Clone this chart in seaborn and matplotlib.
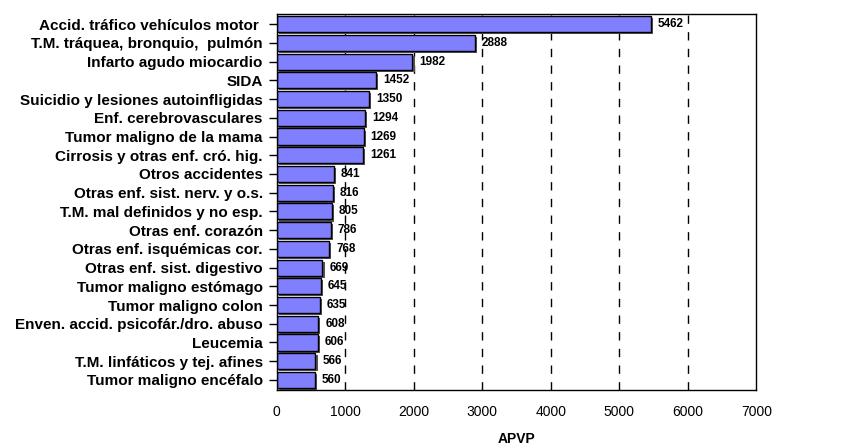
import matplotlib
matplotlib.use("Agg")
import matplotlib.pyplot as plt
import matplotlib.patheffects as pe
import pandas as pd
import seaborn as sns

causes = [
    "Accid. tráfico vehículos motor ",
    "T.M. tráquea, bronquio,  pulmón",
    "Infarto agudo miocardio",
    "SIDA",
    "Suicidio y lesiones autoinfligidas",
    "Enf. cerebrovasculares",
    "Tumor maligno de la mama",
    "Cirrosis y otras enf. cró. hig.",
    "Otros accidentes",
    "Otras enf. sist. nerv. y o.s.",
    "T.M. mal definidos y no esp.",
    "Otras enf. corazón",
    "Otras enf. isquémicas cor.",
    "Otras enf. sist. digestivo",
    "Tumor maligno estómago",
    "Tumor maligno colon",
    "Enven. accid. psicofár./dro. abuso",
    "Leucemia",
    "T.M. linfáticos y tej. afines",
    "Tumor maligno encéfalo",
]
apvp = [5462, 2888, 1982, 1452, 1350, 1294, 1269, 1261, 841, 816,
        805, 786, 768, 669, 645, 635, 608, 606, 566, 560]
xticks = [0, 1000, 2000, 3000, 4000, 5000, 6000, 7000]

df = pd.DataFrame({"causa": causes, "APVP": apvp})

sns.set_style("white")
plt.rcParams["font.family"] = ["Liberation Sans", "DejaVu Sans"]
plt.rcParams["text.color"] = "black"
plt.rcParams["xtick.color"] = "black"
plt.rcParams["ytick.color"] = "black"
plt.rcParams["axes.labelcolor"] = "black"

fig = plt.figure(figsize=(8.46, 4.48), dpi=100)
ax = fig.add_axes([0.327, 0.129, 0.567, 0.84])

for x in xticks[1:-1]:
    ax.axvline(x, color="black", lw=1, ls=(0, (6, 6)), zorder=0)

sns.barplot(data=df, x="APVP", y="causa", color="#8080ff", saturation=1,
            edgecolor="black", linewidth=1, width=0.86, ax=ax, zorder=2)

for p in ax.patches:
    p.set_path_effects([pe.SimplePatchShadow(offset=(1.5, -1.5), shadow_rgbFace="#555555", alpha=1), pe.Normal()])

for i, v in enumerate(apvp):
    ax.text(v + 100, i, str(v), va="center", ha="left", fontsize=8.5,
            fontweight="bold", zorder=3)

ax.set_xlim(0, 7000)
ax.set_ylim(len(causes) - 0.45, -0.55)
ax.set_xticks(xticks)
ax.set_xticklabels([str(t) for t in xticks], fontsize=10)
for lab in ax.get_yticklabels():
    lab.set_fontweight("bold")
    lab.set_fontsize(11)
ax.set_ylabel("")
ax.set_xlabel("APVP", fontsize=10, fontweight="bold", labelpad=9)
ax.tick_params(axis="x", direction="inout", length=8, width=1, pad=7)
ax.tick_params(axis="y", direction="out", length=6, width=1, pad=4, left=True)
for s in ax.spines.values():
    s.set_color("black")
    s.set_linewidth(1)

fig.savefig("out.png", dpi=100)
